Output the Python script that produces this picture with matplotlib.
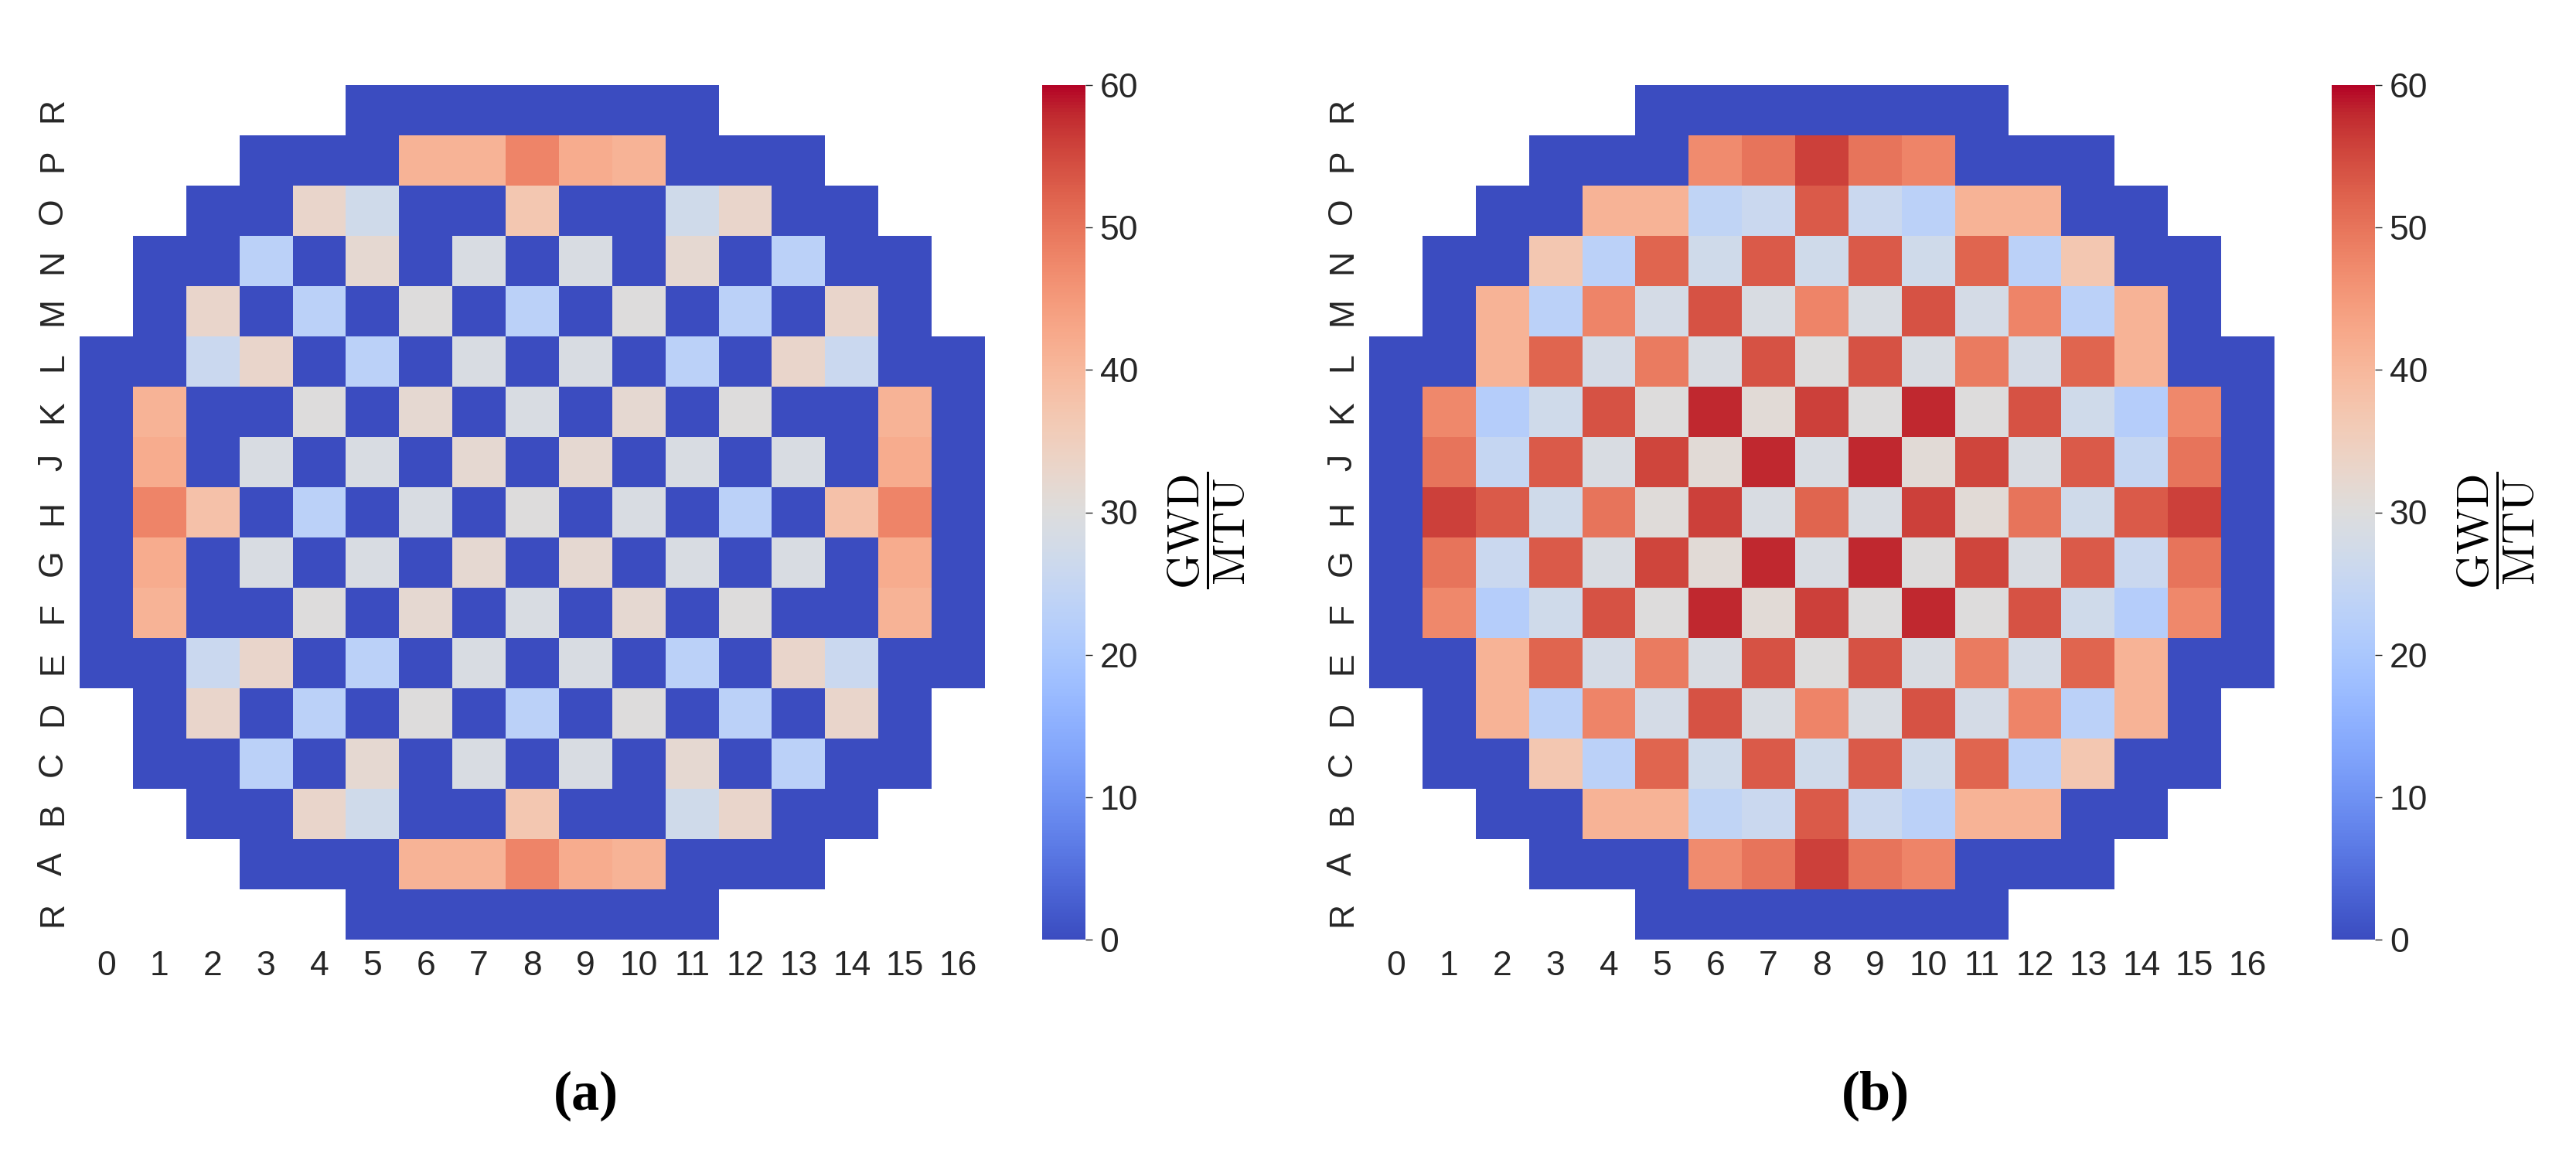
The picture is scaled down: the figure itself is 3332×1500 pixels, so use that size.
import numpy as np
import matplotlib
matplotlib.use("Agg")
import matplotlib.pyplot as plt
import seaborn as sns

# core map: rows top -> bottom, columns 0..16, nan = outside the core
n = np.nan
row_labels = ["R", "P", "O", "N", "M", "L", "K", "J", "H", "G", "F", "E", "D", "C", "B", "A", "R"]
col_labels = list(range(17))

burnup_a = [
    [n, n, n, n, n, 0, 0, 0, 0, 0, 0, 0, n, n, n, n, n],
    [n, n, n, 0, 0, 0, 41, 41, 48, 42, 41, 0, 0, 0, n, n, n],
    [n, n, 0, 0, 33, 27, 0, 0, 37, 0, 0, 27, 33, 0, 0, n, n],
    [n, 0, 0, 23, 0, 32, 0, 29, 0, 29, 0, 32, 0, 23, 0, 0, n],
    [n, 0, 33, 0, 23, 0, 30, 0, 23, 0, 30, 0, 23, 0, 33, 0, n],
    [0, 0, 26, 33, 0, 23, 0, 29, 0, 29, 0, 23, 0, 33, 26, 0, 0],
    [0, 41, 0, 0, 30, 0, 32, 0, 29, 0, 32, 0, 30, 0, 0, 41, 0],
    [0, 42, 0, 29, 0, 29, 0, 32, 0, 32, 0, 29, 0, 29, 0, 42, 0],
    [0, 48, 38, 0, 23, 0, 29, 0, 30, 0, 29, 0, 23, 0, 38, 48, 0],
    [0, 42, 0, 29, 0, 29, 0, 32, 0, 32, 0, 29, 0, 29, 0, 42, 0],
    [0, 41, 0, 0, 30, 0, 32, 0, 29, 0, 32, 0, 30, 0, 0, 41, 0],
    [0, 0, 26, 33, 0, 23, 0, 29, 0, 29, 0, 23, 0, 33, 26, 0, 0],
    [n, 0, 33, 0, 23, 0, 30, 0, 23, 0, 30, 0, 23, 0, 33, 0, n],
    [n, 0, 0, 23, 0, 32, 0, 29, 0, 29, 0, 32, 0, 23, 0, 0, n],
    [n, n, 0, 0, 33, 27, 0, 0, 37, 0, 0, 27, 33, 0, 0, n, n],
    [n, n, n, 0, 0, 0, 41, 41, 48, 42, 41, 0, 0, 0, n, n, n],
    [n, n, n, n, n, 0, 0, 0, 0, 0, 0, 0, n, n, n, n, n],
]

burnup_b = [
    [n, n, n, n, n, 0, 0, 0, 0, 0, 0, 0, n, n, n, n, n],
    [n, n, n, 0, 0, 0, 47, 50, 56, 50, 48, 0, 0, 0, n, n, n],
    [n, n, 0, 0, 41, 41, 24, 26, 53, 26, 23, 41, 41, 0, 0, n, n],
    [n, 0, 0, 37, 23, 52, 27, 53, 27, 53, 27, 52, 23, 37, 0, 0, n],
    [n, 0, 41, 23, 48, 28, 54, 29, 48, 29, 54, 28, 48, 23, 41, 0, n],
    [0, 0, 41, 52, 28, 49, 29, 54, 30, 54, 29, 49, 28, 52, 41, 0, 0],
    [0, 47.5, 22, 27, 54, 30, 58, 31, 56, 30, 58, 30, 54, 27, 22, 47.5, 0],
    [0, 50, 25, 53, 29, 55.5, 31, 58, 29, 58, 31, 55.5, 29, 53, 25, 50, 0],
    [0, 56, 53, 27, 50, 30.5, 56, 29, 52, 29, 56, 31, 50, 27, 53, 56, 0],
    [0, 50, 26, 53, 29, 55.5, 31, 58, 29, 58, 30, 55.5, 29, 53, 26, 50, 0],
    [0, 47.5, 22, 27, 54, 30, 58, 31, 56, 30, 58, 30, 54, 27, 22, 47.5, 0],
    [0, 0, 41, 52, 28, 49, 29, 54, 30, 54, 29, 49, 28, 52, 41, 0, 0],
    [n, 0, 41, 23, 48, 28, 54, 29, 48, 29, 54, 28, 48, 23, 41, 0, n],
    [n, 0, 0, 37, 23, 52, 27, 53, 27, 53, 27, 52, 23, 37, 0, 0, n],
    [n, n, 0, 0, 41, 41, 24, 26, 53, 26, 23, 41, 41, 0, 0, n, n],
    [n, n, n, 0, 0, 0, 47, 50, 56, 50, 48, 0, 0, 0, n, n, n],
    [n, n, n, n, n, 0, 0, 0, 0, 0, 0, 0, n, n, n, n, n],
]

plt.rcParams["font.family"] = ["Liberation Sans", "DejaVu Sans"]
plt.rcParams["mathtext.fontset"] = "cm"

W, H = 3332, 1500
fig = plt.figure(figsize=(W / 100, H / 100), dpi=100)
text_col = "#262626"


def draw_panel(x0, data, tag):
    # pixel layout measured on the reference
    top, bottom = 110, 1215
    ax = fig.add_axes([x0 / W, 1 - bottom / H, 1171 / W, (bottom - top) / H])
    cax = fig.add_axes([(x0 + 1245) / W, 1 - bottom / H, 56 / W, (bottom - top) / H])

    sns.heatmap(np.array(data, dtype=float), ax=ax, cbar_ax=cax, cmap="coolwarm",
                vmin=0, vmax=60, xticklabels=col_labels, yticklabels=row_labels)

    ax.set_yticklabels(row_labels, rotation=90, va="center")
    ax.set_xticklabels(col_labels, rotation=0)
    ax.tick_params(axis="both", length=0, pad=10, labelsize=32, labelcolor=text_col)

    cax.set_yticks([0, 10, 20, 30, 40, 50, 60])
    cax.tick_params(length=6.5, width=1, pad=7, labelsize=32,
                    color=text_col, labelcolor=text_col)

    fig.text((x0 + 1458) / W, 1 - 686 / H, r"$\dfrac{\mathrm{GWD}}{\mathrm{MTU}}$",
             rotation=90, ha="center", va="center", fontsize=42)
    fig.text((x0 + 655) / W, 1 - 1417 / H, tag, ha="center", va="center",
             fontsize=52, fontweight="bold", family="Liberation Serif")


draw_panel(103, burnup_a, "(a)")
draw_panel(1771, burnup_b, "(b)")

fig.savefig("out.png", dpi=100)
